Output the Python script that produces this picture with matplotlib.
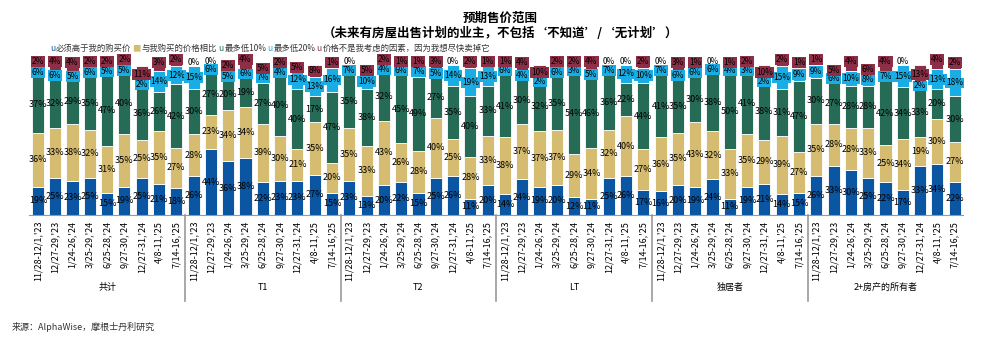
import matplotlib
matplotlib.use("Agg")
import matplotlib.pyplot as plt
import numpy as np

plt.rcParams['font.family'] = ['Liberation Sans Narrow', 'Noto Sans CJK SC', 'DejaVu Sans']

dates = ["11/28-12/1,'23", "12/27-29,'23", "1/24-26,'24", "3/25-29,'24", "6/25-28,'24",
         "9/27-30,'24", "12/27-31,'24", "4/8-11,'25", "7/14-16,'25"]
groups = ["共计", "T1", "T2", "LT", "独居者", "2+房产的所有者"]

series_names = ["必须高于我的购买价", "与我购买的价格相比", "最多低10%", "最多低20%",
                "价格不是我考虑的因素，因为我想尽快卖掉它"]

# blue, tan, green, light blue, maroon -- 9 surveys per group, groups in order above
above_price = [19, 25, 23, 25, 15, 19, 25, 21, 18,
               26, 44, 36, 38, 22, 23, 23, 27, 15,
               23, 13, 20, 22, 15, 25, 26, 11, 20,
               14, 24, 19, 20, 12, 11, 25, 26, 17,
               16, 20, 19, 24, 11, 19, 21, 14, 15,
               26, 33, 30, 25, 22, 17, 33, 34, 22]
same_price = [36, 33, 38, 32, 31, 35, 25, 35, 27,
              28, 23, 34, 34, 39, 30, 21, 35, 20,
              35, 33, 43, 26, 28, 40, 25, 28, 33,
              38, 37, 37, 37, 29, 34, 32, 40, 27,
              36, 35, 43, 32, 33, 35, 29, 39, 27,
              35, 28, 28, 33, 25, 34, 19, 30, 27]
down_10 = [37, 32, 29, 35, 47, 40, 36, 26, 42,
           30, 27, 20, 19, 27, 40, 40, 17, 47,
           35, 38, 32, 45, 49, 27, 35, 40, 33,
           41, 30, 32, 35, 54, 46, 36, 22, 44,
           41, 35, 30, 38, 50, 41, 38, 31, 47,
           30, 27, 28, 28, 42, 34, 33, 20, 30]
down_20 = [6, 6, 5, 6, 5, 5, 2, 14, 12,
           15, 6, 5, 6, 7, 4, 12, 13, 16,
           7, 10, 4, 6, 7, 5, 14, 19, 13,
           6, 4, 2, 6, 3, 5, 7, 12, 10,
           7, 6, 6, 6, 4, 3, 2, 15, 9,
           9, 6, 10, 8, 7, 15, 2, 13, 18]
no_matter = [2, 4, 4, 2, 2, 2, 11, 3, 2,
             0, 0, 2, 4, 5, 2, 5, 8, 1,
             0, 5, 2, 1, 1, 3, 0, 2, 1,
             1, 4, 10, 2, 2, 4, 0, 0, 2,
             0, 3, 1, 0, 1, 2, 10, 2, 1,
             1, 5, 4, 6, 4, 0, 13, 4, 2]

colors = ["#0a56a3", "#d5bc70", "#266b55", "#19ade4", "#8c2f47"]
boxed = [False, False, False, True, True]

fig = plt.figure(figsize=(10, 3.51), dpi=100)
ax = fig.add_axes([0.0293, 0.387, 0.934, 0.428])

data = [above_price, same_price, down_10, down_20, no_matter]
n = len(above_price)
x = np.arange(n)
bottom = np.zeros(n)
for k, vals in enumerate(data):
    vals = np.array(vals, dtype=float)
    ax.bar(x, vals, 0.7, bottom=bottom, color=colors[k], edgecolor="white", linewidth=0.6)
    for i in range(n):
        yc = bottom[i] + vals[i] / 2
        txt = f"{int(vals[i])}%"
        if k == 4 and 0 < vals[i] < 5:
            # small maroon labels sit on top of the bar
            yc = bottom[i] + vals[i] + 2.5
        if boxed[k] and vals[i] > 0:
            ax.text(x[i], yc, txt, ha="center", va="center", fontsize=6,
                    bbox=dict(boxstyle="square,pad=0.1", facecolor=colors[k], edgecolor="none"))
        elif vals[i] == 0:
            ax.text(x[i], yc + 2.5, txt, ha="center", va="center", fontsize=6)
        else:
            ax.text(x[i], yc, txt, ha="center", va="center", fontsize=6.5)
    bottom += vals

ax.set_xlim(-0.5, n - 0.5)
ax.set_ylim(0, 100)
ax.set_yticks([])
for s in ["top", "right", "left"]:
    ax.spines[s].set_visible(False)
ax.spines["bottom"].set_color("#999999")
ax.set_xticks(x)
ax.set_xticklabels(dates * len(groups), rotation=90, fontsize=6.5)
ax.tick_params(axis="x", length=0, pad=4)

for g, name in enumerate(groups):
    ax.text(g * 9 + 4, -48, name, ha="center", va="center", fontsize=6.5,
            family=["Noto Sans CJK SC", "DejaVu Sans"], clip_on=False)
    if g > 0:
        ax.plot([g * 9 - 0.5, g * 9 - 0.5], [0, -57], color="#999999", lw=1.2, clip_on=False)

fig.text(0.5, 0.948, "预期售价范围", ha="center", va="center", fontsize=9,
         fontweight="bold", family=["Noto Sans CJK SC", "DejaVu Sans"])
fig.text(0.5, 0.905, "（未来有房屋出售计划的业主，不包括‘不知道’/‘无计划’）", ha="center",
         va="center", fontsize=9, fontweight="bold", family=["Noto Sans CJK SC", "DejaVu Sans"])

# legend line
lx = 0.05
ly = 0.862
markers = ["u", "■", "u", "u", "u"]
for k, name in enumerate(series_names):
    t = fig.text(lx, ly, markers[k], color=colors[k], fontsize=6, va="center",
                 family=["Noto Sans CJK SC", "DejaVu Sans"])
    fig.canvas.draw()
    bb = t.get_window_extent()
    lx = bb.x1 / fig.bbox.width + 0.001
    t = fig.text(lx, ly, name, color="#333333", fontsize=6, va="center",
                 family=["Noto Sans CJK SC", "DejaVu Sans"])
    fig.canvas.draw()
    bb = t.get_window_extent()
    lx = bb.x1 / fig.bbox.width + 0.001

fig.text(0.012, 0.068, "来源：AlphaWise，摩根士丹利研究", fontsize=6.5, color="#333333",
         va="center", family=["Noto Sans CJK SC", "DejaVu Sans"])

fig.savefig("out.png", dpi=100)
